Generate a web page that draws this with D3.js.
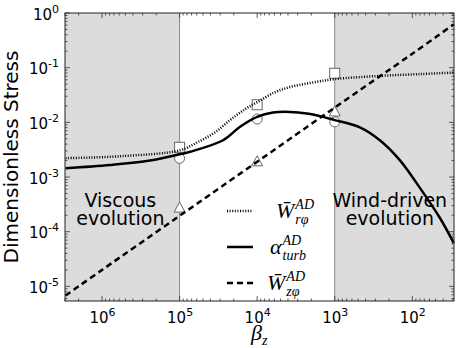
<!DOCTYPE html>
<html>
<head>
<meta charset="utf-8">
<script src="https://cdn.jsdelivr.net/npm/d3@7"></script>
<style>
  body { margin: 0; background: #fff; }
  svg { display: block; font-family: "DejaVu Sans", sans-serif; }
</style>
</head>
<body>
<div class="stress"></div>
<script>
// axis ranges and ticks
const betaDomain = [3e6, 29];
const stressDomain = [5.4e-6, 1];
const xTicks = [1e6, 1e5, 1e4, 1e3, 1e2];
const yTicks = [1e-5, 1e-4, 1e-3, 1e-2, 1e-1, 1];
const regimeEdges = [1e5, 1e3];

// curves
const betaWr = [2.95e6, 5.8e5, 9.8e4, 5.75e4, 3.47e4, 2.24e4, 1.43e4, 1e4, 5.9e3, 3.78e3, 2.09e3, 1e3, 263, 79, 29.2];
const valWr  = [2.21e-3, 2.4e-3, 3.1e-3, 4.4e-3, 6.6e-3, 0.011, 0.0174, 0.0234, 0.0355, 0.0442, 0.0525, 0.0617, 0.0708, 0.0764, 0.0813];

const betaAlpha = [2.95e6, 7.8e5, 2.4e5, 1e5, 7.3e4, 2.75e4, 1.66e4, 1e4, 6.24e3, 3.78e3, 2.29e3, 1.41e3, 1e3, 474, 262, 145, 79, 44, 29.2];
const valAlpha  = [1.45e-3, 1.66e-3, 2.0e-3, 2.6e-3, 2.9e-3, 4.7e-3, 8.3e-3, 0.0126, 0.0151, 0.0155, 0.0145, 0.0126, 0.011, 8.1e-3, 4.7e-3, 2.04e-3, 6.2e-4, 1.78e-4, 6.2e-5];

const betaWz = [2.95e6, 1e6, 1e5, 1e4, 1e3, 1e2, 29.2];
const valWz  = [6.8e-6, 2.0e-5, 1.95e-4, 1.9e-3, 0.0186, 0.18, 0.62];

// simulation points
const betaSim  = [1e5, 1e4, 1e3];
const simWr    = [3.5e-3, 0.021, 0.079];
const simAlpha = [2.2e-3, 0.0115, 0.0102];
const simWz    = [2.7e-4, 1.9e-3, 0.0155];

// regime labels
const regimeText = [
  { beta: 5.8e5, lines: ['Viscous', 'evolution'] },
  { beta: 195, lines: ['Wind-driven', 'evolution'] }
];

const width = 463, height = 348;
const margin = { top: 13, right: 9, bottom: 47, left: 65 };
const iw = width - margin.left - margin.right;
const ih = height - margin.top - margin.bottom;

const svg = d3.select('.stress').append('svg')
  .attr('width', width)
  .attr('height', height);

const x = d3.scaleLog().domain(betaDomain).range([0, iw]);
const y = d3.scaleLog().domain(stressDomain).range([ih, 0]);

const g = svg.append('g').attr('transform', `translate(${margin.left},${margin.top})`);

// shaded regimes
g.append('rect').attr('x', 0).attr('y', 0)
  .attr('width', x(regimeEdges[0])).attr('height', ih).attr('fill', '#dcdcdc');
g.append('rect').attr('x', x(regimeEdges[1])).attr('y', 0)
  .attr('width', iw - x(regimeEdges[1])).attr('height', ih).attr('fill', '#dcdcdc');
regimeEdges.forEach(b => {
  g.append('line').attr('x1', x(b)).attr('x2', x(b)).attr('y1', 0).attr('y2', ih)
    .attr('stroke', '#8a8a8a').attr('stroke-width', 1);
});

regimeText.forEach(r => {
  const t = g.append('text').attr('text-anchor', 'middle').attr('font-size', 19).attr('fill', '#000');
  r.lines.forEach((s, i) => t.append('tspan').attr('x', x(r.beta)).attr('y', 194 + i * 18).text(s));
});

// minor/major ticks, inward on all four sides
const isMajor = v => Math.abs(Math.log10(v) - Math.round(Math.log10(v))) < 1e-6;
const minorX = x.ticks().filter(v => !isMajor(v));
const minorY = y.ticks().filter(v => !isMajor(v));
const tickG = g.append('g').attr('stroke', '#333').attr('stroke-width', 0.8);
minorX.forEach(v => {
  tickG.append('line').attr('x1', x(v)).attr('x2', x(v)).attr('y1', ih).attr('y2', ih - 2.5);
  tickG.append('line').attr('x1', x(v)).attr('x2', x(v)).attr('y1', 0).attr('y2', 2.5);
});
minorY.forEach(v => {
  tickG.append('line').attr('x1', 0).attr('x2', 2.5).attr('y1', y(v)).attr('y2', y(v));
  tickG.append('line').attr('x1', iw).attr('x2', iw - 2.5).attr('y1', y(v)).attr('y2', y(v));
});
xTicks.forEach(v => {
  tickG.append('line').attr('x1', x(v)).attr('x2', x(v)).attr('y1', ih).attr('y2', ih - 5);
  tickG.append('line').attr('x1', x(v)).attr('x2', x(v)).attr('y1', 0).attr('y2', 5);
});
yTicks.forEach(v => {
  tickG.append('line').attr('x1', 0).attr('x2', 5).attr('y1', y(v)).attr('y2', y(v));
  tickG.append('line').attr('x1', iw).attr('x2', iw - 5).attr('y1', y(v)).attr('y2', y(v));
});

// axes with power-of-ten labels
const xAxis = d3.axisBottom(x).tickValues(xTicks).tickSize(0).tickPadding(8).tickFormat('');
const yAxis = d3.axisLeft(y).tickValues(yTicks).tickSize(0).tickPadding(6).tickFormat('');
const xG = g.append('g').attr('transform', `translate(0,${ih})`).call(xAxis);
const yG = g.append('g').call(yAxis);
[xG, yG].forEach(a => a.select('.domain').remove());

function powerLabel(sel) {
  sel.each(function(d) {
    const t = d3.select(this).attr('font-size', 15).attr('fill', '#000')
      .attr('font-family', '"DejaVu Sans", sans-serif');
    t.append('tspan').text('10');
    t.append('tspan').attr('font-size', 11).attr('dy', -7).text(Math.round(Math.log10(d)));
  });
}
xG.selectAll('.tick text').attr('dy', '0.9em').call(powerLabel);
yG.selectAll('.tick text').attr('dy', '0.4em').call(powerLabel);

// curves
const line = d3.line().x(d => x(d[0])).y(d => y(d[1])).curve(d3.curveCatmullRom);
const plot = g.append('g');

// markers under the lines
const markerStroke = '#666';
betaSim.forEach((b, i) => {
  plot.append('rect').attr('x', x(b) - 5).attr('y', y(simWr[i]) - 5).attr('width', 10).attr('height', 10)
    .attr('fill', '#fff').attr('stroke', markerStroke);
  plot.append('circle').attr('cx', x(b)).attr('cy', y(simAlpha[i])).attr('r', 5)
    .attr('fill', '#fff').attr('stroke', markerStroke);
  const tx = x(b), ty = y(simWz[i]);
  plot.append('path').attr('d', `M${tx},${ty - 6}L${tx + 5.5},${ty + 4}L${tx - 5.5},${ty + 4}Z`)
    .attr('fill', '#fff').attr('stroke', markerStroke);
});

plot.append('path').datum(d3.zip(betaWr, valWr)).attr('d', line)
  .attr('fill', 'none').attr('stroke', '#000').attr('stroke-width', 2.5).attr('stroke-dasharray', '1,1.6');
plot.append('path').datum(d3.zip(betaAlpha, valAlpha)).attr('d', line)
  .attr('fill', 'none').attr('stroke', '#000').attr('stroke-width', 2.5);
plot.append('path').datum(d3.zip(betaWz, valWz)).attr('d', line)
  .attr('fill', 'none').attr('stroke', '#000').attr('stroke-width', 2.5).attr('stroke-dasharray', '6,4');

// frame
g.append('rect').attr('width', iw).attr('height', ih).attr('fill', 'none')
  .attr('stroke', '#222').attr('stroke-width', 1);

// legend
const legend = svg.append('g');
const rows = [
  { y: 211, dash: '1,1.6', base: 'W\u0304', sup: 'AD', sub: 'r\u03c6', tx: 276 },
  { y: 247, dash: null, base: '\u03b1', sup: 'AD', sub: 'turb', tx: 270 },
  { y: 283, dash: '6,4', base: 'W\u0304', sup: 'AD', sub: 'z\u03c6', tx: 267 }
];
rows.forEach(r => {
  const l = legend.append('line').attr('x1', 227).attr('x2', 253).attr('y1', r.y).attr('y2', r.y)
    .attr('stroke', '#000').attr('stroke-width', 2.5);
  if (r.dash) l.attr('stroke-dasharray', r.dash);
  const b = legend.append('text').attr('x', r.tx).attr('y', r.y + 7)
    .attr('font-family', '"Liberation Serif", serif').attr('font-style', 'italic').attr('font-size', 22)
    .text(r.base);
  const w = b.node().getComputedTextLength();
  legend.append('text').attr('x', r.tx + w + 1).attr('y', r.y - 2)
    .attr('font-family', '"Liberation Serif", serif').attr('font-style', 'italic').attr('font-size', 14)
    .text(r.sup);
  legend.append('text').attr('x', r.tx + w + 1).attr('y', r.y + 13)
    .attr('font-family', '"Liberation Serif", serif').attr('font-style', 'italic').attr('font-size', 14)
    .text(r.sub);
});

// axis titles
svg.append('text')
  .attr('transform', `translate(18,${margin.top + ih / 2}) rotate(-90)`)
  .attr('text-anchor', 'middle').attr('font-size', 20).text('Dimensionless Stress');

const xt = svg.append('text').attr('x', 251).attr('y', 340)
  .attr('font-family', '"Liberation Serif", serif').attr('font-style', 'italic').attr('font-size', 22);
xt.append('tspan').text('\u03b2');
xt.append('tspan').attr('font-size', 14).attr('dy', 5).text('z');
</script>
</body>
</html>
